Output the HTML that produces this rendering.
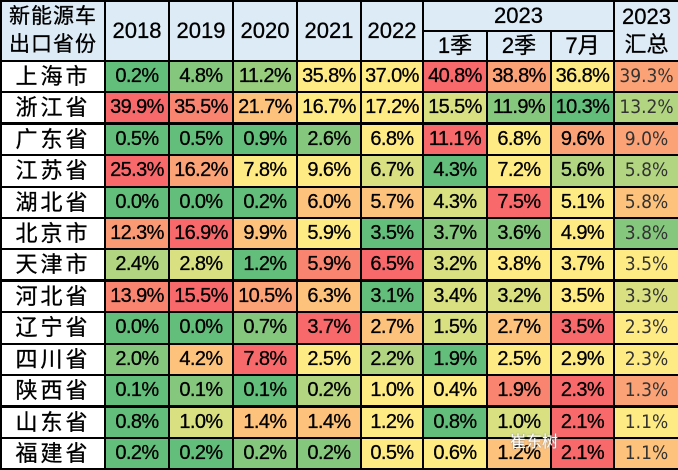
<!DOCTYPE html><html><head><meta charset="utf-8"><style>
body{margin:0;background:#fff;width:678px;height:468px;overflow:hidden}
table{border-collapse:collapse;table-layout:fixed;width:678px;font-family:"Liberation Sans","Noto Sans CJK SC",sans-serif;position:absolute;left:0;top:0}
td{border:2px solid #000;text-align:center;padding:0;font-size:20px;letter-spacing:-0.6px;color:#000;white-space:nowrap;overflow:hidden;line-height:27px;-webkit-text-stroke:0.3px #000}
th{border:2px solid #000;background:#ddebf7;font-weight:normal;font-size:22px;padding:0;line-height:26px;-webkit-text-stroke:0.3px #000}
tr.h1{height:30px} tr.h2{height:30px}
tbody tr{height:31.4px}
td.n{font-size:22px;letter-spacing:3px;background:#fff}
td.s{font-weight:normal;color:#333;font-family:"DejaVu Sans Condensed","Liberation Sans",sans-serif;font-size:19px;-webkit-text-stroke:0;letter-spacing:0}
tr.tk td{border-bottom:3px solid #000}
.G{background:#63be7b}.g{background:#85c77d}.l{background:#b1d580}.y{background:#d8e082}.Y{background:#ffeb84}.o{background:#fdc27c}.O{background:#fba276}.R{background:#f8696b}.r{background:#f98570}
</style></head><body>
<table>
<colgroup><col style="width:104px"><col style="width:64px"><col style="width:64px"><col style="width:64px"><col style="width:64px"><col style="width:62px"><col style="width:64px"><col style="width:64px"><col style="width:63px"><col style="width:65px"></colgroup>
<thead>
<tr class="h1"><th rowspan="2" style="font-size:21px;line-height:28px;letter-spacing:1px">新能源车<br>出口省份</th><th rowspan="2">2018</th><th rowspan="2">2019</th><th rowspan="2">2020</th><th rowspan="2">2021</th><th rowspan="2">2022</th><th colspan="3">2023</th><th rowspan="2" style="line-height:28px">2023<br>汇总</th></tr>
<tr class="h2"><th>1季</th><th>2季</th><th>7月</th></tr>
</thead>
<tbody>
<tr><td class="n">上海市</td><td class="G">0.2%</td><td class="g">4.8%</td><td class="l" style="background:#98cd7e">11.2%</td><td class="Y">35.8%</td><td class="Y">37.0%</td><td class="R">40.8%</td><td class="O">38.8%</td><td class="Y">36.8%</td><td class="s O">39.3%</td></tr>
<tr class="tk"><td class="n">浙江省</td><td class="R">39.9%</td><td class="r">35.5%</td><td class="o">21.7%</td><td class="Y">16.7%</td><td class="Y">17.2%</td><td class="y">15.5%</td><td class="g">11.9%</td><td class="G">10.3%</td><td class="s l">13.2%</td></tr>
<tr><td class="n">广东省</td><td class="G">0.5%</td><td class="G">0.5%</td><td class="G">0.9%</td><td class="g">2.6%</td><td class="Y">6.8%</td><td class="R">11.1%</td><td class="Y">6.8%</td><td class="O">9.6%</td><td class="s O">9.0%</td></tr>
<tr><td class="n">江苏省</td><td class="R">25.3%</td><td class="O">16.2%</td><td class="Y">7.8%</td><td class="Y">9.6%</td><td class="y">6.7%</td><td class="G">4.3%</td><td class="Y">7.2%</td><td class="l">5.6%</td><td class="s l">5.8%</td></tr>
<tr><td class="n">湖北省</td><td class="G">0.0%</td><td class="G">0.0%</td><td class="G">0.2%</td><td class="o">6.0%</td><td class="o">5.7%</td><td class="y">4.3%</td><td class="R">7.5%</td><td class="Y">5.1%</td><td class="s o">5.8%</td></tr>
<tr><td class="n">北京市</td><td class="O" style="background:#fa9a74">12.3%</td><td class="R">16.9%</td><td class="o">9.9%</td><td class="Y">5.9%</td><td class="G">3.5%</td><td class="g">3.7%</td><td class="g">3.6%</td><td class="Y">4.9%</td><td class="s g">3.8%</td></tr>
<tr class="tk"><td class="n">天津市</td><td class="l">2.4%</td><td class="y">2.8%</td><td class="G">1.2%</td><td class="r">5.9%</td><td class="R">6.5%</td><td class="y">3.2%</td><td class="Y">3.8%</td><td class="Y">3.7%</td><td class="s Y">3.5%</td></tr>
<tr><td class="n">河北省</td><td class="r">13.9%</td><td class="R">15.5%</td><td class="O">10.5%</td><td class="o">6.3%</td><td class="G">3.1%</td><td class="y">3.4%</td><td class="y">3.2%</td><td class="Y">3.5%</td><td class="s y">3.3%</td></tr>
<tr><td class="n">辽宁省</td><td class="G">0.0%</td><td class="G">0.0%</td><td class="g">0.7%</td><td class="R">3.7%</td><td class="o">2.7%</td><td class="y">1.5%</td><td class="o">2.7%</td><td class="R">3.5%</td><td class="s Y">2.3%</td></tr>
<tr><td class="n">四川省</td><td class="g">2.0%</td><td class="o">4.2%</td><td class="R">7.8%</td><td class="Y">2.5%</td><td class="l">2.2%</td><td class="G">1.9%</td><td class="Y">2.5%</td><td class="Y">2.9%</td><td class="s Y">2.3%</td></tr>
<tr class="tk"><td class="n">陕西省</td><td class="G">0.1%</td><td class="g">0.1%</td><td class="G">0.1%</td><td class="l">0.2%</td><td class="Y">1.0%</td><td class="Y">0.4%</td><td class="r">1.9%</td><td class="R">2.3%</td><td class="s O">1.3%</td></tr>
<tr><td class="n">山东省</td><td class="G">0.8%</td><td class="y">1.0%</td><td class="o">1.4%</td><td class="o">1.4%</td><td class="Y">1.2%</td><td class="G">0.8%</td><td class="y">1.0%</td><td class="R">2.1%</td><td class="s Y">1.1%</td></tr>
<tr><td class="n">福建省</td><td class="G">0.2%</td><td class="G">0.2%</td><td class="g">0.2%</td><td class="g">0.2%</td><td class="Y">0.5%</td><td class="Y">0.6%</td><td class="o">1.2%</td><td class="R">2.1%</td><td class="s o">1.1%</td></tr>
</tbody></table>
<div style="position:absolute;left:510px;top:428px;font-family:'Noto Sans CJK SC',sans-serif;font-size:16px;color:#fff;text-shadow:0 0 2px #888">崔东树</div>
</body></html>
